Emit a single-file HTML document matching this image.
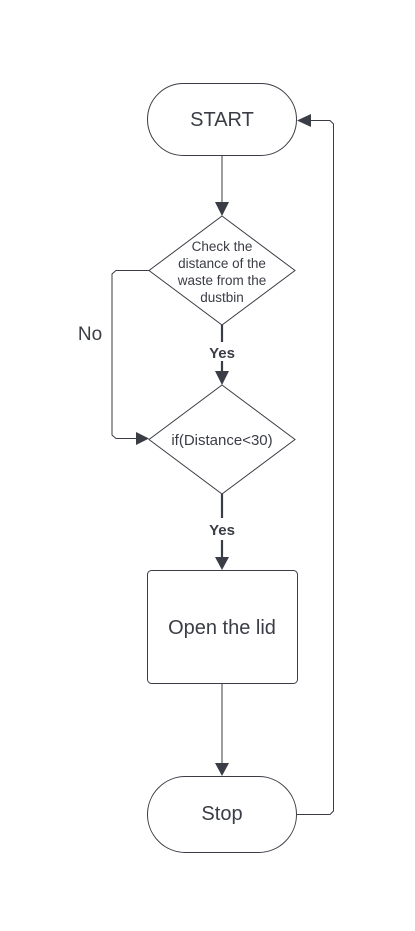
<!DOCTYPE html>
<html><head><style>
html,body{margin:0;padding:0;background:#fff;}
svg{display:block;}
text{font-family:"Liberation Sans",sans-serif;fill:#3a3d45;}
</style></head><body>
<svg width="415" height="931" viewBox="0 0 415 931" xmlns="http://www.w3.org/2000/svg">
<rect width="415" height="931" fill="#fff"/>
<g fill="none" stroke="#3a3d45" stroke-width="1">
<rect x="147.5" y="83.5" width="149" height="72" rx="36"/>
<polygon points="222,216 295,270.5 222,325 149,270.5"/>
<polygon points="222,385 295,439.5 222,494 149,439.5"/>
<rect x="147.5" y="570.5" width="150" height="113" rx="4"/>
<rect x="147.5" y="776.5" width="149" height="76" rx="38"/>
<line x1="222" y1="156" x2="222" y2="203"/>
<line x1="222" y1="684" x2="222" y2="763"/>
<polyline points="149,270.5 116,270.5 112,274 112,435 116,438.5 137,438.5"/>
<polyline points="297,814.5 330,814.5 333.5,811 333.5,124 330,120.5 310,120.5"/>
</g>
<g stroke="#3a3d45" stroke-width="2.2">
<line x1="222" y1="325" x2="222" y2="342"/>
<line x1="222" y1="361" x2="222" y2="375"/>
<line x1="222" y1="494" x2="222" y2="518"/>
<line x1="222" y1="540" x2="222" y2="558"/>
</g>
<g fill="#3a3d45">
<polygon points="215,202 229,202 222,216"/>
<polygon points="215,371 229,371 222,385"/>
<polygon points="215,557 229,557 222,570"/>
<polygon points="215,763 229,763 222,776"/>
<polygon points="136,432 136,445 149,438.5"/>
<polygon points="311,114 311,127 297,120.5"/>
</g>
<text x="222" y="126" font-size="20" text-anchor="middle">START</text>
<text x="222" y="251" font-size="13.5" text-anchor="middle">Check the</text>
<text x="222" y="268" font-size="13.5" text-anchor="middle">distance of the</text>
<text x="222" y="285" font-size="13.5" text-anchor="middle">waste from the</text>
<text x="222" y="302" font-size="13.5" text-anchor="middle">dustbin</text>
<text x="222" y="445" font-size="15" text-anchor="middle">if(Distance&lt;30)</text>
<text x="222" y="358" font-size="15" font-weight="bold" text-anchor="middle">Yes</text>
<text x="222" y="535" font-size="15" font-weight="bold" text-anchor="middle">Yes</text>
<text x="90" y="340" font-size="19" text-anchor="middle">No</text>
<text x="222" y="634" font-size="20" text-anchor="middle">Open the lid</text>
<text x="222" y="820" font-size="20" text-anchor="middle">Stop</text>
</svg>
</body></html>
